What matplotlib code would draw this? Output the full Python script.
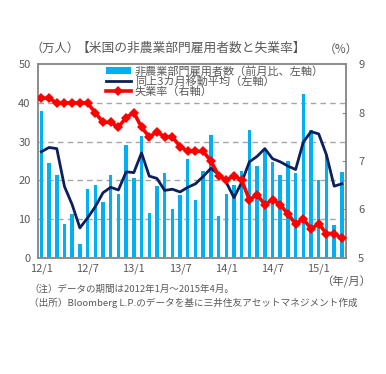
import matplotlib
matplotlib.use("Agg")
import matplotlib.pyplot as plt
from matplotlib.patches import Patch
from matplotlib.lines import Line2D
import numpy as np

plt.rcParams['font.family'] = ['Noto Sans CJK JP', 'DejaVu Sans']

# 2012/1 - 2015/4, monthly
months = [f"{y}/{m}" for y in range(12, 16) for m in range(1, 13)][:40]
payrolls = [38.0, 24.6, 21.5, 8.7, 11.3, 3.6, 17.7, 18.8, 14.4, 21.3,
            16.4, 29.1, 20.5, 31.4, 11.5, 18.6, 21.8, 12.6, 16.3, 25.6,
            15.0, 22.5, 31.6, 10.9, 16.5, 18.8, 22.4, 32.9, 23.6, 27.8,
            24.8, 21.3, 25.0, 22.0, 42.3, 32.9, 20.1, 26.5, 8.5, 22.2]
moving_avg = [27.4, 28.5, 28.2, 18.4, 13.7, 7.7, 10.3, 13.2, 16.8, 18.2,
              17.5, 22.2, 22.0, 27.1, 21.1, 20.5, 17.4, 17.7, 17.0, 18.2,
              19.1, 21.0, 23.1, 21.6, 19.5, 15.5, 19.5, 24.8, 26.2, 28.2,
              25.6, 24.8, 23.7, 22.8, 29.9, 32.6, 32.0, 26.6, 18.5, 19.1]
unemployment = [8.3, 8.3, 8.2, 8.2, 8.2, 8.2, 8.2, 8.0, 7.8, 7.8,
                7.7, 7.9, 8.0, 7.7, 7.5, 7.6, 7.5, 7.5, 7.3, 7.2,
                7.2, 7.2, 7.0, 6.7, 6.6, 6.7, 6.6, 6.2, 6.3, 6.1,
                6.2, 6.1, 5.9, 5.7, 5.8, 5.6, 5.7, 5.5, 5.5, 5.4]
xtick_labels = ["12/1", "12/7", "13/1", "13/7", "14/1", "14/7", "15/1"]
left_ticks = [0, 10, 20, 30, 40, 50]
right_ticks = [5, 6, 7, 8, 9]

labels = ["非農業部門雇用者数（前月比、左軸）", "同上3カ月移動平均（左軸）", "失業率（右軸）"]

BAR_C = "#00B0F0"
NAVY = "#0D1F5C"
RED = "#FF0000"
GRAY_T = "#595959"
FRAME = "#8C8C8C"

fig = plt.figure(figsize=(3.86, 3.74), dpi=100)
ax = fig.add_axes([0.0972, 0.311, 0.7984, 0.517])
ax2 = ax.twinx()

x = np.arange(len(months))
ax.bar(x, payrolls, width=0.45, color=BAR_C, zorder=2)
ax.plot(x, moving_avg, color=NAVY, lw=2.0, zorder=3)
ax2.plot(x, unemployment, color=RED, lw=2.6, marker='D', markersize=5.5,
         markeredgewidth=0, zorder=4)

ax.set_xlim(-0.5, 39.5)
ax.set_ylim(0, 50)
ax2.set_ylim(5, 9)
ax.set_yticks(left_ticks)
ax2.set_yticks(right_ticks)
ax.set_xticks(x[::6])
ax.set_xticklabels(xtick_labels)

for t in left_ticks[1:-1]:
    ax.axhline(t, color="#A6A6A6", lw=1.0, ls=(0, (4, 3)), zorder=1)

ax.tick_params(axis='y', length=0, labelsize=8, labelcolor=GRAY_T, pad=5)
ax.tick_params(axis='x', direction='in', length=3, color=FRAME, labelsize=8,
               labelcolor=GRAY_T, pad=4)
ax2.tick_params(axis='y', direction='in', length=3, color=FRAME, labelsize=8,
                labelcolor=GRAY_T, pad=9)

for a in (ax, ax2):
    for s in a.spines.values():
        s.set_color(FRAME)
        s.set_linewidth(1.2)

handles = [Patch(facecolor=BAR_C, edgecolor='none'),
           Line2D([0], [0], color=NAVY, lw=2.0),
           Line2D([0], [0], color=RED, lw=2.6, marker='D', markersize=5.5,
                  markeredgewidth=0)]
leg = ax2.legend(handles, labels, loc='upper left', bbox_to_anchor=(0.21, 1.01),
                 frameon=False, fontsize=8.0, labelspacing=-0.05, handlelength=2.3,
                 handleheight=0.5, handletextpad=0.35, borderaxespad=0.2, borderpad=0.1)
for t in leg.get_texts():
    t.set_color(GRAY_T)

fig.text(0.080, 0.872, "（万人）", fontsize=8.8, color=GRAY_T, va='center', ha='left')
fig.text(0.198, 0.872, "【米国の非農業部門雇用者数と失業率】", fontsize=9.2,
         color=GRAY_T, va='center', ha='left')
fig.text(0.838, 0.868, "（%）", fontsize=8.5, color=GRAY_T, va='center', ha='left')
fig.text(0.833, 0.245, "（年/月）", fontsize=8.2, color=GRAY_T, va='center', ha='left')
fig.text(0.075, 0.228, "（注）データの期間は2012年1月～2015年4月。", fontsize=6.8,
         color=GRAY_T, va='center', ha='left')
fig.text(0.075, 0.190, "（出所）Bloomberg L.P.のデータを基に三井住友アセットマネジメント作成",
         fontsize=6.9, color=GRAY_T, va='center', ha='left')

fig.savefig("out.png", dpi=100, facecolor='white')
